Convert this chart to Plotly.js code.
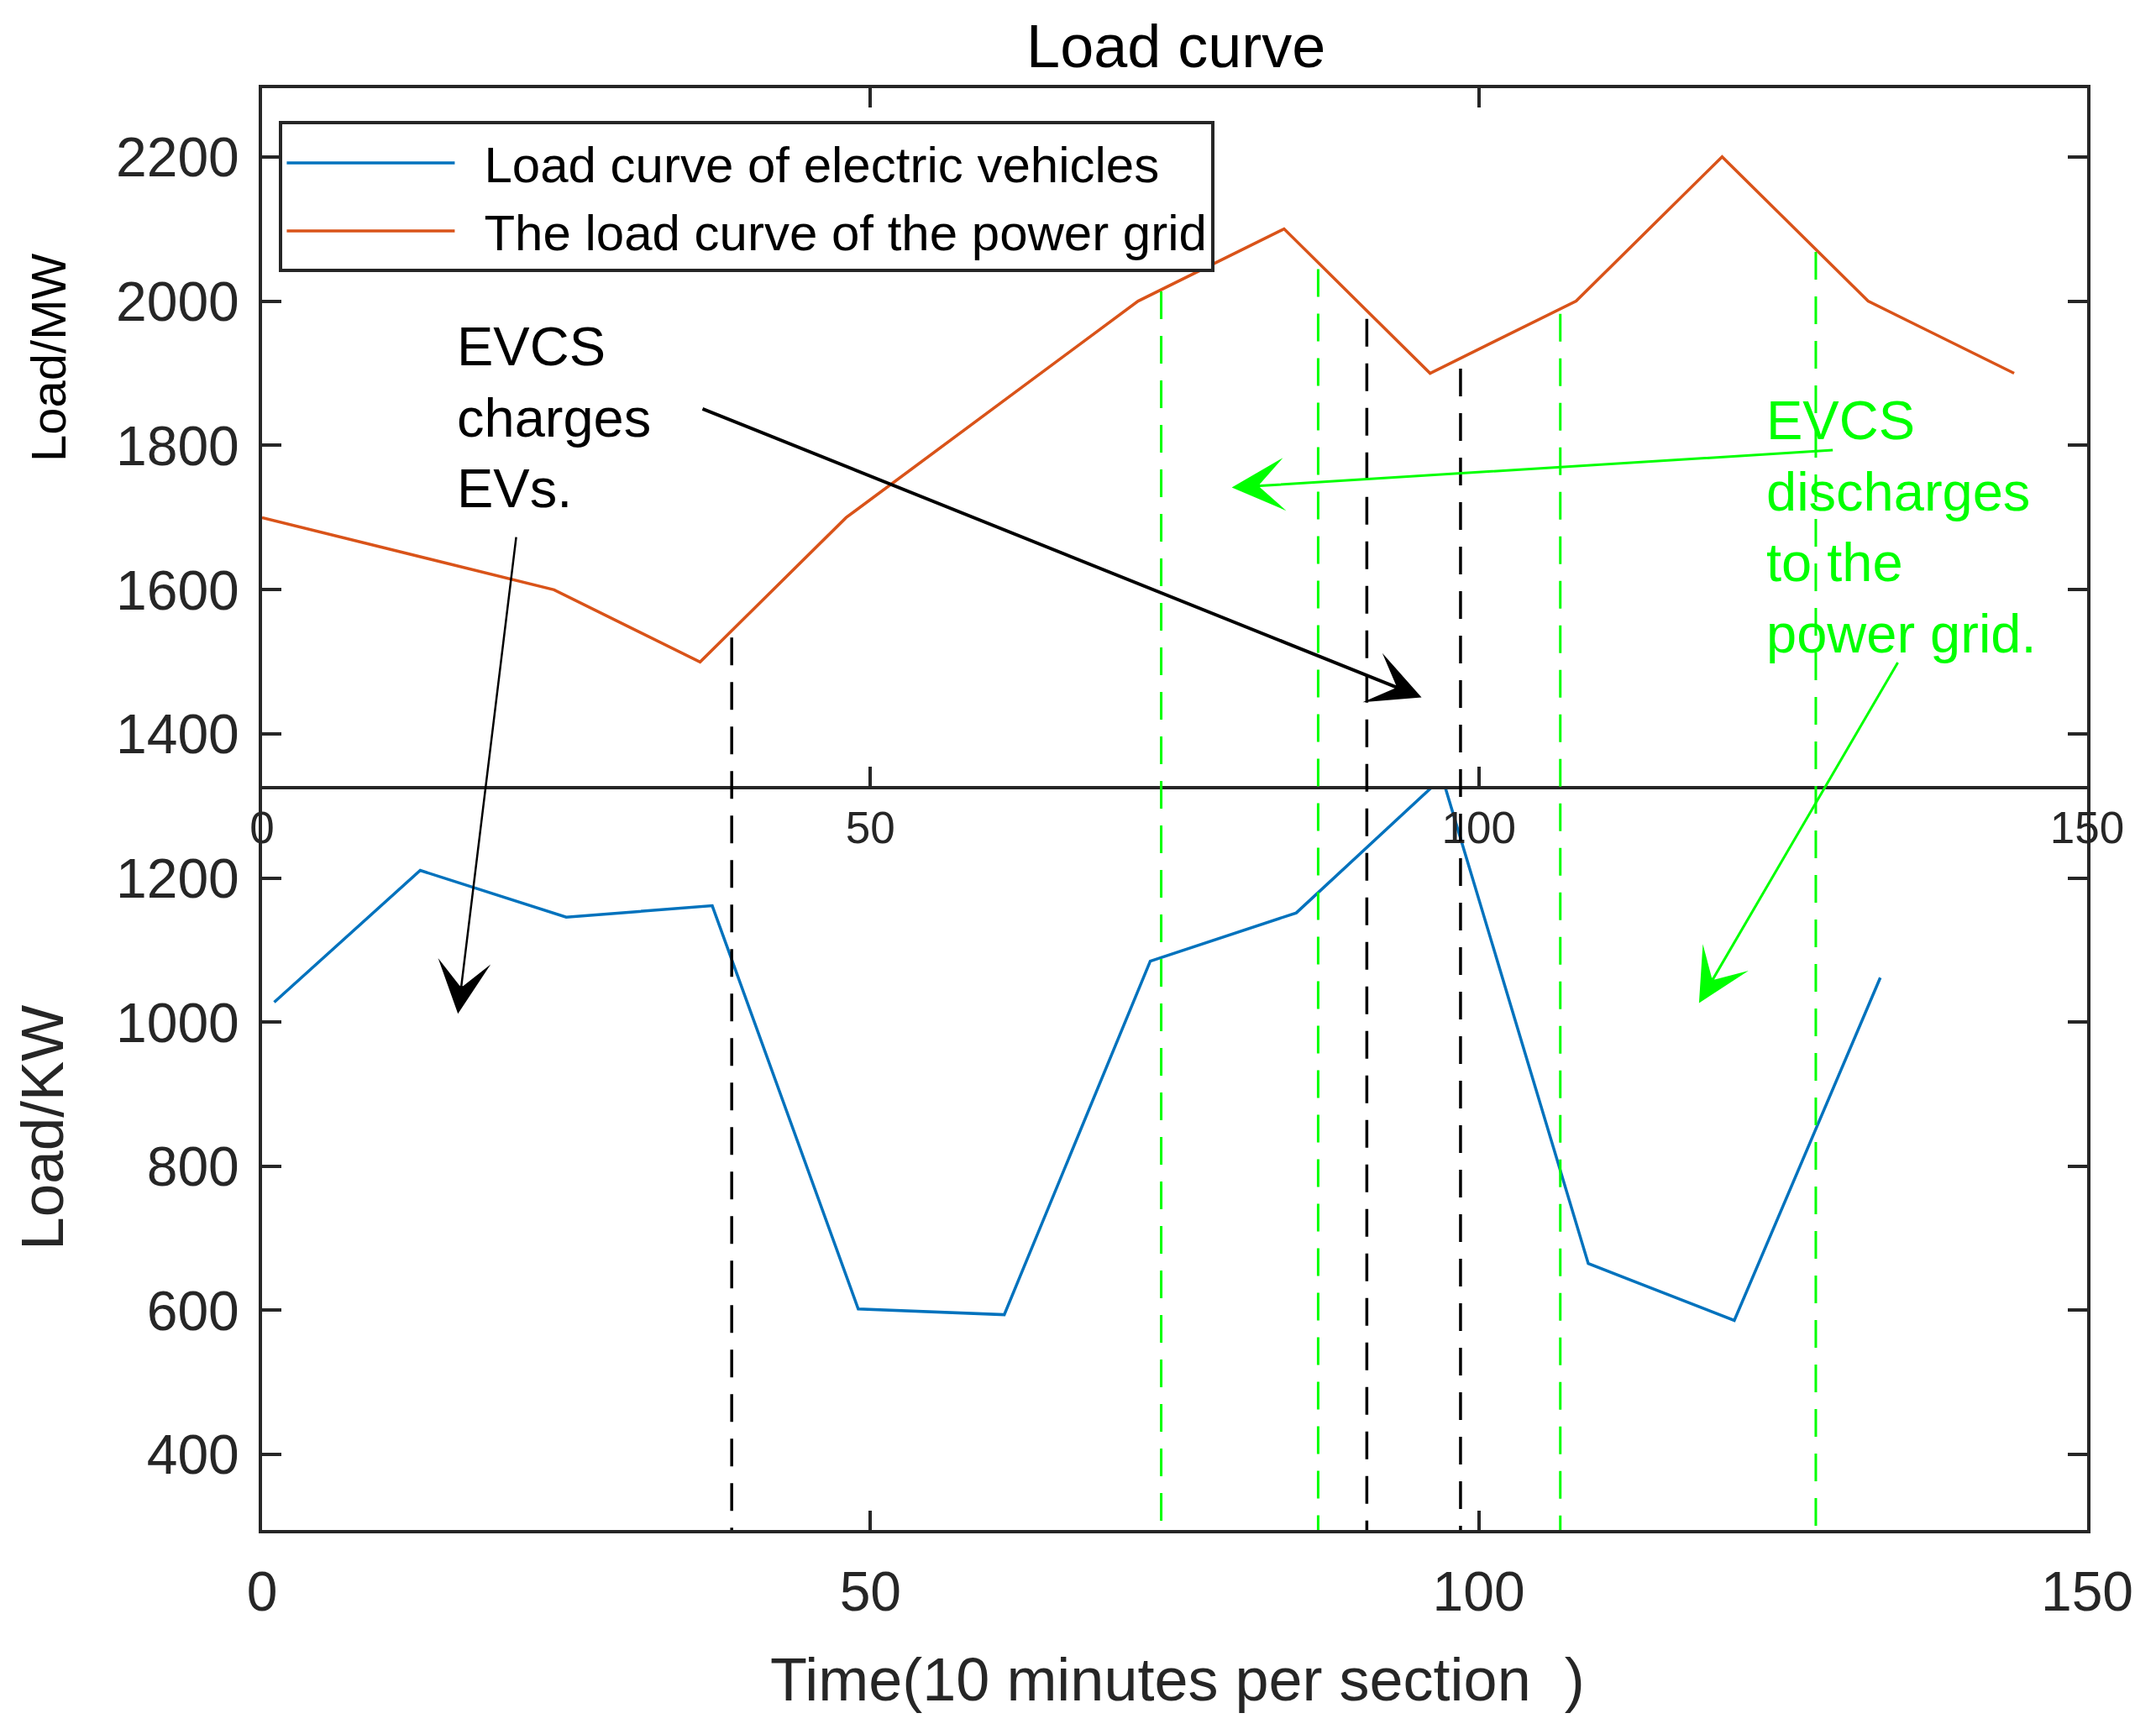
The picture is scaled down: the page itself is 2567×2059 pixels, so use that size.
<!DOCTYPE html>
<html>
<head>
<meta charset="utf-8">
<title>Load curve</title>
<script src="https://cdn.plot.ly/plotly-3.0.1.min.js"></script>
<style>
  html, body { margin: 0; padding: 0; background: #ffffff; }
  #chart { width: 2567px; height: 2059px; }
</style>
</head>
<body>
<div id="chart"></div>
<script>
// Load of the EV charging station (KW), one point every 12 sections
const evTime = [1, 13, 25, 37, 49, 61, 73, 85, 97, 109, 121, 133];
const evLoad = [1028, 1211, 1146, 1162, 602, 594, 1085, 1152, 1340, 665, 586, 1062];

// Load of the power grid (MW)
const gridTime = [0, 24, 36, 48, 72, 84, 96, 108, 120, 132, 144];
const gridLoad = [1700, 1600, 1500, 1700, 2000, 2100, 1900, 2000, 2200, 2000, 1900];

// Vertical dashed markers: section, top value (MW scale)
const chargeMarkTime = [38.6, 90.8, 98.5];
const chargeMarkTop = [1533, 1975, 1906];
const dischargeMarkTime = [73.9, 86.8, 106.7, 127.7];
const dischargeMarkTop = [2013, 2044, 1982, 2068];

// Annotation arrows: tail section/value and head section/value
const arrowTailTime = [36.1, 20.9, 129.2, 134.5];
const arrowTailLoad = [1851, 1674, 1793, 1500];
const arrowHeadTime = [95.3, 16.1, 79.7, 118.1];
const arrowHeadLoad = [1450, 1011, 1741, 1026];

const xTicks = [0, 50, 100, 150];
const kwTicks = [400, 600, 800, 1000, 1200];
const mwTicks = [1400, 1600, 1800, 2000, 2200];

const FONT = 'Liberation Sans, Arial, Helvetica, sans-serif';
const AXIS_COLOR = '#262626';
const SPLIT = 0.5159;   // where the lower axes meets the upper one

function drawChart() {
    const traces = [
        {
            x: evTime, y: evLoad, type: 'scatter', mode: 'lines',
            name: '\u2002Load curve of electric vehicles',
            line: { color: '#0072BD', width: 3.5 },
            xaxis: 'x', yaxis: 'y'
        },
        {
            x: gridTime, y: gridLoad, type: 'scatter', mode: 'lines',
            name: '\u2002The load curve of the power grid',
            line: { color: '#D95319', width: 3.5 },
            xaxis: 'x2', yaxis: 'y2'
        }
    ];

    // dashed markers run through both axes, so they live on a hidden full-height axis pair
    chargeMarkTime.forEach((t, i) => {
        traces.push({
            x: [t, t], y: [chargeMarkTop[i], 200], type: 'scatter', mode: 'lines',
            showlegend: false, hoverinfo: 'skip',
            line: { color: '#000000', width: 3.5, dash: '33px,20px' },
            xaxis: 'x3', yaxis: 'y3'
        });
    });
    dischargeMarkTime.forEach((t, i) => {
        traces.push({
            x: [t, t], y: [dischargeMarkTop[i], 200], type: 'scatter', mode: 'lines',
            showlegend: false, hoverinfo: 'skip',
            line: { color: '#00FF00', width: 3, dash: '33px,20px' },
            xaxis: 'x3', yaxis: 'y3'
        });
    });

    const axisBase = {
        showline: true, linewidth: 4, linecolor: AXIS_COLOR,
        ticks: 'inside', ticklen: 23, tickwidth: 4, tickcolor: AXIS_COLOR,
        showgrid: false, zeroline: false,
        tickfont: { family: FONT, size: 66, color: AXIS_COLOR }
    };

    const arrowColors = ['#000000', '#000000', '#00FF00', '#00FF00'];
    const arrowWidths = [4, 2.5, 3, 3];

    const annotations = [];
    arrowHeadTime.forEach((t, i) => {
        annotations.push({
            xref: 'x3', yref: 'y3', axref: 'x3', ayref: 'y3',
            x: t, y: arrowHeadLoad[i], ax: arrowTailTime[i], ay: arrowTailLoad[i],
            text: '', showarrow: true, arrowhead: 3,
            arrowcolor: arrowColors[i], arrowwidth: arrowWidths[i],
            arrowsize: 10.5 / arrowWidths[i]
        });
    });

    annotations.push(
        {
            xref: 'x2', yref: 'y2', x: 15.9, y: 1839, xanchor: 'left', yanchor: 'middle',
            align: 'left', showarrow: false, text: 'EVCS<br>charges<br>EVs.',
            font: { family: FONT, size: 65, color: '#000000' }
        },
        {
            xref: 'x2', yref: 'y2', x: 123.5, y: 1687, xanchor: 'left', yanchor: 'middle',
            align: 'left', showarrow: false, text: 'EVCS<br>discharges<br>to the<br>power grid.',
            font: { family: FONT, size: 65, color: '#00FF00' }
        },
        // axis titles, placed like the original rather than centred on each axis
        {
            xref: 'paper', yref: 'paper', x: -0.1171, y: 0.8128, textangle: -90,
            xanchor: 'center', yanchor: 'middle',
            showarrow: false, text: 'Load/MW',
            font: { family: FONT, size: 58, color: '#000000' }
        },
        {
            xref: 'paper', yref: 'paper', x: -0.1203, y: 0.2789, textangle: -90,
            xanchor: 'center', yanchor: 'middle',
            showarrow: false, text: 'Load/KW',
            font: { family: FONT, size: 71, color: AXIS_COLOR }
        },
        {
            xref: 'paper', yref: 'paper', x: 0.5017, y: -0.1036,
            xanchor: 'center', yanchor: 'middle',
            showarrow: false, text: 'Time(10 minutes per section \u00a0)',
            font: { family: FONT, size: 72, color: AXIS_COLOR }
        }
    );

    const layout = {
        width: 2567,
        height: 2059,
        margin: { l: 312, r: 82, t: 105, b: 237 },
        paper_bgcolor: '#ffffff',
        plot_bgcolor: 'rgba(0,0,0,0)',
        font: { family: FONT, color: AXIS_COLOR },
        title: {
            text: 'Load curve',
            font: { family: FONT, size: 72, color: '#000000' },
            xref: 'paper', x: 0.5008,
            yref: 'container', y: 0.9733, yanchor: 'middle'
        },
        showlegend: true,
        legend: {
            x: 0.0094, y: 0.977, xanchor: 'left', yanchor: 'top',
            bgcolor: '#ffffff', bordercolor: AXIS_COLOR, borderwidth: 4,
            font: { family: FONT, size: 60, color: '#000000' },
            itemwidth: 200, tracegroupgap: 0
        },
        xaxis: Object.assign({}, axisBase, {
            domain: [0, 1], range: [0, 150], anchor: 'y',
            tickvals: xTicks, mirror: false, ticklabelstandoff: 13
        }),
        yaxis: Object.assign({}, axisBase, {
            domain: [0, SPLIT], range: [295, 1328], anchor: 'x',
            tickvals: kwTicks, mirror: 'ticks', ticklabelstandoff: 10
        }),
        xaxis2: Object.assign({}, axisBase, {
            domain: [0, 1], range: [0, 150], anchor: 'y2',
            tickvals: xTicks, mirror: 'ticks',
            tickfont: { family: FONT, size: 53, color: AXIS_COLOR }
        }),
        yaxis2: Object.assign({}, axisBase, {
            domain: [SPLIT, 1], range: [1328, 2295], anchor: 'x2',
            tickvals: mwTicks, mirror: 'ticks', ticklabelstandoff: 10
        }),
        // hidden full-height axes for the markers and arrows
        xaxis3: { domain: [0, 1], range: [0, 150], anchor: 'y3', visible: false },
        yaxis3: { domain: [0, 1], range: [295, 2295], anchor: 'x3', visible: false },
        annotations: annotations
    };

    Plotly.newPlot('chart', traces, layout, { staticPlot: true });
}

drawChart();
</script>
</body>
</html>
